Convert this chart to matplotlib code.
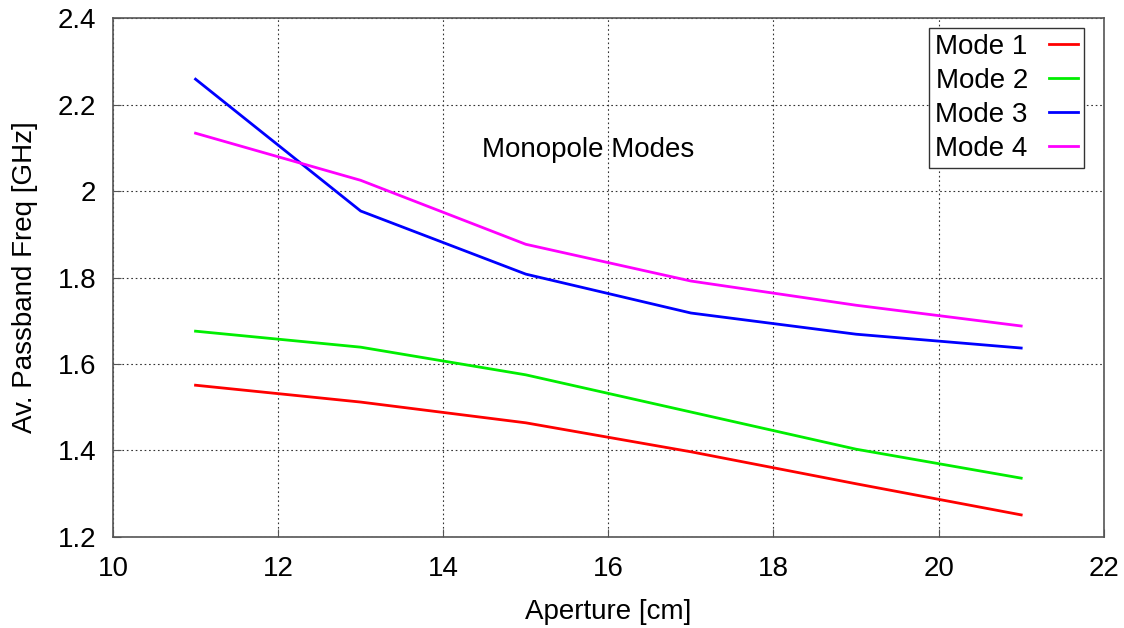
import matplotlib
matplotlib.use("Agg")
import matplotlib.pyplot as plt

plt.rcParams['font.family'] = ['Liberation Sans', 'DejaVu Sans']

aperture = [11, 13, 15, 17, 19, 21]
mode1 = [1.551, 1.512, 1.464, 1.397, 1.323, 1.251]
mode2 = [1.676, 1.639, 1.575, 1.489, 1.403, 1.336]
mode3 = [2.259, 1.954, 1.808, 1.718, 1.669, 1.637]
mode4 = [2.134, 2.025, 1.877, 1.792, 1.736, 1.688]
labels = ["Mode 1", "Mode 2", "Mode 3", "Mode 4"]
colors = ["#ff0000", "#00ee00", "#0000ff", "#ff00ff"]

FS = 20

fig = plt.figure(figsize=(11.24, 6.28), dpi=100)
ax = fig.add_axes([0.1005, 0.145, 0.8815, 0.826])

for y, lab, c in zip([mode1, mode2, mode3, mode4], labels, colors):
    ax.plot(aperture, y, color=c, lw=2.0, label=lab)

ax.set_xlim(10, 22)
ax.set_ylim(1.2, 2.4)
ax.set_xticks(range(10, 23, 2))
ax.set_yticks([1.2, 1.4, 1.6, 1.8, 2.0, 2.2, 2.4])
ax.set_yticklabels(["1.2", "1.4", "1.6", "1.8", "2", "2.2", "2.4"])
ax.grid(True, color="#333333", linestyle=(0, (1.5, 2.5)), linewidth=0.8)
ax.tick_params(direction="in", length=6, labelsize=FS, color="#555555")
ax.tick_params(axis="x", pad=14)
ax.tick_params(axis="y", pad=12)
for s in ax.spines.values():
    s.set_color("#555555")
    s.set_linewidth(1.2)

ax.set_xlabel("Aperture [cm]", fontsize=FS, labelpad=12)
ax.set_ylabel("Av. Passband Freq [GHz]", fontsize=FS, labelpad=14)
ax.text(15.75, 2.095, "Monopole Modes", fontsize=FS, ha="center", va="center")

leg = ax.legend(loc="upper right", bbox_to_anchor=(0.98, 0.981), fontsize=FS,
                markerfirst=False, frameon=True, fancybox=False, handlelength=1.05,
                labelspacing=0.28, borderpad=0.22, handletextpad=0.75, borderaxespad=0)
leg.get_frame().set_edgecolor("#333333")
leg.get_frame().set_linewidth(1.0)
leg.get_frame().set_alpha(1)

fig.savefig("out.png", dpi=100)
